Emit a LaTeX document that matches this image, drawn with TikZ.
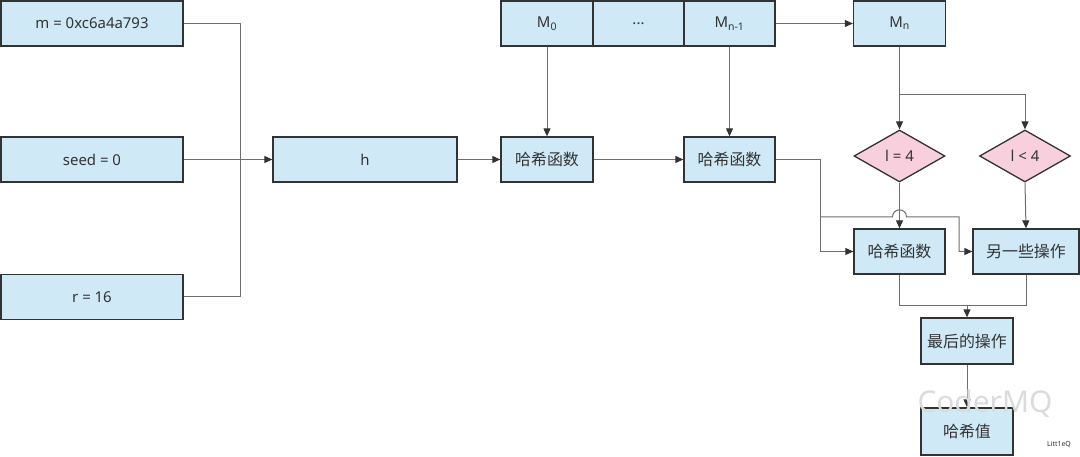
\documentclass[tikz,border=0pt]{standalone}
\usepackage{fontspec}
\setmainfont{Noto Sans}
\newfontfamily\cjk{Noto Sans CJK SC}
\usetikzlibrary{arrows.meta,shapes.geometric}
\definecolor{boxblue}{HTML}{CFE9F6}
\definecolor{diapink}{HTML}{F8CFDC}
\definecolor{edge}{HTML}{333333}
\definecolor{wire}{HTML}{6E6E6E}
\definecolor{txt}{HTML}{333333}
\begin{document}
\begin{tikzpicture}[x=1bp,y=-1bp,
  box/.style={draw=edge,fill=boxblue,line width=1.3bp,inner sep=0pt,minimum height=45bp,text=txt,font=\fontsize{15}{18}\selectfont},
  cbox/.style={box,font=\fontsize{16}{18}\selectfont\cjk},
  dia/.style={draw=edge,fill=diapink,line width=1.3bp,diamond,aspect=1.75,inner sep=0pt,minimum width=91bp,minimum height=52bp,text=txt,font=\fontsize{15}{18}\selectfont},
  wirel/.style={draw=wire,line width=1bp},
  arr/.style={wirel,-{Triangle[length=8bp,width=7bp,color=edge]}}
]
\useasboundingbox (0,0) rectangle (1080,457);
% left inputs
\node[box,minimum width=182bp] (m) at (92,23.5) {m = 0xc6a4a793};
\node[box,minimum width=182bp] (seed) at (92,159.5) {seed = 0};
\node[box,minimum width=182bp] (r) at (92,297) {r = 16};
\node[box,minimum width=184bp] (h) at (365,159.5) {h};
% message blocks
\node[box,minimum width=92bp] (M0) at (547,23.5) {M\textsubscript{0}};
\node[box,minimum width=91bp] (Mdots) at (638.5,23.5) {...};
\node[box,minimum width=91bp] (Mn1) at (729.5,23.5) {M\textsubscript{n-1}};
\node[box,minimum width=92bp] (Mn) at (899.5,23.5) {M\textsubscript{n}};
% hash functions
\node[cbox,minimum width=92bp] (hf1) at (547,159.5) {哈希函数};
\node[cbox,minimum width=91bp] (hf2) at (729.5,159.5) {哈希函数};
\node[dia] (d1) at (899.5,156) {l = 4};
\node[dia] (d2) at (1025,156) {l < 4};
\node[cbox,minimum width=91bp] (hf3) at (899.5,251.5) {哈希函数};
\node[cbox,minimum width=106bp] (op) at (1026,251.5) {另一些操作};
\node[cbox,minimum width=92bp,minimum height=46bp] (fin) at (967,341) {最后的操作};
\node[cbox,minimum width=92bp,minimum height=47bp] (hv) at (967,431.5) {哈希值};
% junction coordinates
\coordinate (jx) at (240,159.5);
\coordinate (br) at (899.5,95);
\coordinate (s1) at (820,159.5);
\coordinate (s2) at (820,217);
\coordinate (j3) at (967,306);
% connectors
\draw[wirel] (m.east) -| (jx);
\draw[wirel] (r.east) -| (jx);
\draw[arr] (seed.east) -- (h.west);
\draw[arr] (h.east) -- (hf1.west);
\draw[arr] (hf1.east) -- (hf2.west);
\draw[arr] (M0.south) -- (hf1.north);
\draw[arr] (Mn1.south) -- (hf2.north);
\draw[arr] (Mn1.east) -- (Mn.west);
\draw[wirel] (Mn.south) -- (br);
\draw[arr] (br) -- (d1.north);
\draw[arr] (br) -| (d2.north);
\draw[arr] (d1.south) -- (hf3.north);
\draw[arr] (d2.south) -- (op.north);
\draw[arr] (hf2.east) -- (s1) |- (hf3.west);
\draw[arr] (s2) -- (892.5,217) .. controls (892.5,207.5) and (906.5,207.5) .. (906.5,217) -- (959,217) |- (op.west);
\draw[wirel] (hf3.south) |- (j3);
\draw[wirel] (op.south) |- (j3);
\draw[arr] (j3) -- (fin.north);
\draw[arr] (fin.south) -- (hv.north);
% watermark and signature
\node[text=black!14,font=\fontsize{30}{32}\selectfont] (wm) at (985,404) {CoderMQ};
\node[text=txt,font=\fontsize{7}{8}\selectfont] (sig) at (1059,445) {Litt1eQ};
\end{tikzpicture}
\end{document}
